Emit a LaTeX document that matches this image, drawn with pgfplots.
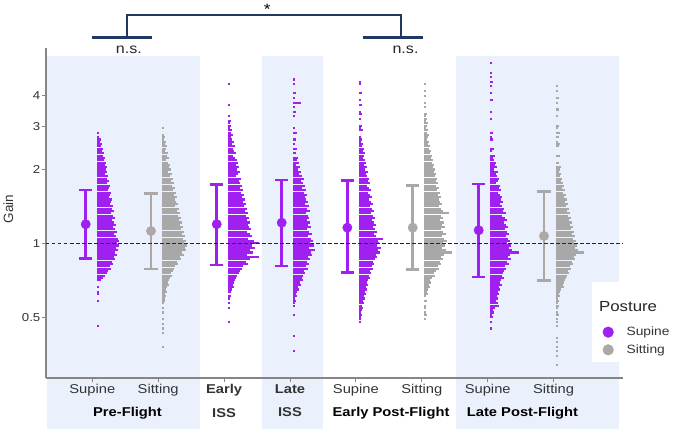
\documentclass[border=0pt]{standalone}
\usepackage{fontspec}
\setmainfont{Liberation Sans}[FakeStretch=1.15]
\newfontfamily\plainsans{Liberation Sans}
\usepackage{pgfplots}
\usepackage{pgfplotstable}
\pgfplotsset{compat=1.18}
\definecolor{purp}{HTML}{A020F0}
\definecolor{grybar}{HTML}{A8A8A8}
\definecolor{grypt}{HTML}{ABA8A5}
\definecolor{shade}{HTML}{EAF1FD}
\definecolor{navy}{HTML}{1F3864}
\definecolor{axgray}{HTML}{8A8580}
\definecolor{tickc}{HTML}{333333}

% histogram tables: g = gain (bin), e = bar length (x units)
\pgfplotstableread{
g e
2.828 0.030
2.709 0.030
2.650 0.061
2.594 0.046
2.538 0.076
2.484 0.061
2.430 0.091
2.378 0.076
2.328 0.106
2.278 0.091
2.229 0.121
2.181 0.106
2.134 0.137
2.089 0.121
2.044 0.152
2.000 0.137
1.957 0.152
1.915 0.121
1.874 0.167
1.834 0.152
1.795 0.182
1.756 0.152
1.719 0.197
1.682 0.182
1.646 0.167
1.610 0.212
1.576 0.197
1.542 0.182
1.509 0.228
1.477 0.212
1.445 0.197
1.414 0.243
1.384 0.228
1.354 0.258
1.325 0.212
1.297 0.243
1.269 0.273
1.242 0.228
1.215 0.258
1.189 0.288
1.164 0.243
1.139 0.273
1.114 0.303
1.091 0.258
1.067 0.288
1.044 0.319
1.022 0.334
1.000 0.303
0.979 0.334
0.958 0.288
0.937 0.319
0.917 0.273
0.897 0.303
0.878 0.258
0.859 0.273
0.841 0.228
0.823 0.243
0.805 0.197
0.788 0.212
0.771 0.167
0.755 0.152
0.738 0.121
0.723 0.091
0.707 0.061
0.662 0.030
0.634 0.030
0.621 0.030
0.582 0.030
0.458 0.030
}\tA
\pgfplotstableread{
g e
2.954 0.030
2.768 0.030
2.709 0.046
2.650 0.030
2.594 0.061
2.538 0.046
2.484 0.076
2.430 0.061
2.378 0.046
2.328 0.091
2.278 0.076
2.229 0.106
2.181 0.061
2.134 0.091
2.089 0.121
2.044 0.106
2.000 0.137
1.957 0.091
1.915 0.152
1.874 0.121
1.834 0.167
1.795 0.137
1.756 0.182
1.719 0.152
1.682 0.197
1.646 0.167
1.610 0.212
1.576 0.182
1.542 0.228
1.509 0.197
1.477 0.212
1.445 0.243
1.414 0.197
1.384 0.258
1.354 0.228
1.325 0.273
1.297 0.243
1.269 0.288
1.242 0.258
1.215 0.303
1.189 0.273
1.164 0.319
1.139 0.288
1.114 0.334
1.091 0.303
1.067 0.349
1.044 0.319
1.022 0.364
1.000 0.334
0.979 0.379
0.958 0.349
0.937 0.364
0.917 0.303
0.897 0.334
0.878 0.273
0.859 0.288
0.841 0.228
0.823 0.243
0.805 0.197
0.788 0.182
0.771 0.167
0.755 0.137
0.738 0.152
0.723 0.121
0.707 0.106
0.692 0.091
0.677 0.106
0.662 0.076
0.648 0.061
0.634 0.076
0.621 0.046
0.607 0.061
0.595 0.046
0.582 0.046
0.569 0.030
0.545 0.030
0.522 0.030
0.489 0.030
0.468 0.030
0.449 0.030
0.430 0.030
0.378 0.030
}\tB
\pgfplotstableread{
g e
4.457 0.030
3.668 0.030
3.292 0.030
3.152 0.046
3.084 0.030
3.018 0.046
2.954 0.030
2.890 0.061
2.828 0.046
2.768 0.076
2.709 0.046
2.650 0.061
2.594 0.091
2.538 0.061
2.484 0.106
2.430 0.076
2.378 0.091
2.328 0.121
2.278 0.076
2.229 0.106
2.181 0.137
2.134 0.152
2.089 0.121
2.044 0.167
2.000 0.137
1.957 0.182
1.915 0.152
1.874 0.121
1.834 0.197
1.795 0.167
1.756 0.182
1.719 0.212
1.682 0.182
1.646 0.228
1.610 0.197
1.576 0.243
1.542 0.212
1.509 0.258
1.477 0.228
1.445 0.273
1.414 0.243
1.384 0.288
1.354 0.258
1.325 0.303
1.297 0.273
1.269 0.319
1.242 0.288
1.215 0.334
1.189 0.303
1.164 0.319
1.139 0.349
1.114 0.288
1.091 0.334
1.067 0.364
1.044 0.303
1.022 0.395
1.000 0.470
0.979 0.364
0.958 0.410
0.937 0.334
0.917 0.379
0.897 0.288
0.878 0.470
0.859 0.334
0.841 0.273
0.823 0.303
0.805 0.228
0.788 0.212
0.771 0.182
0.755 0.167
0.738 0.137
0.723 0.121
0.707 0.106
0.692 0.091
0.677 0.076
0.662 0.091
0.648 0.061
0.634 0.046
0.607 0.046
0.595 0.030
0.569 0.030
0.545 0.030
0.479 0.030
}\tC
\pgfplotstableread{
g e
4.655 0.030
4.457 0.030
4.088 0.046
3.914 0.030
3.748 0.121
3.589 0.030
3.437 0.046
3.292 0.030
2.954 0.030
2.828 0.061
2.650 0.046
2.538 0.030
2.430 0.061
2.328 0.046
2.229 0.076
2.181 0.061
2.134 0.091
2.089 0.046
2.044 0.106
2.000 0.076
1.957 0.121
1.915 0.091
1.874 0.137
1.834 0.167
1.795 0.121
1.756 0.152
1.719 0.182
1.682 0.137
1.646 0.197
1.610 0.167
1.576 0.212
1.542 0.182
1.509 0.197
1.477 0.228
1.445 0.182
1.414 0.243
1.384 0.212
1.354 0.258
1.325 0.197
1.297 0.228
1.269 0.243
1.242 0.212
1.215 0.258
1.189 0.228
1.164 0.273
1.139 0.212
1.114 0.243
1.091 0.288
1.067 0.228
1.044 0.273
1.022 0.303
1.000 0.258
0.979 0.319
0.958 0.243
0.937 0.334
0.917 0.273
0.897 0.288
0.878 0.228
0.859 0.258
0.841 0.212
0.823 0.243
0.805 0.197
0.788 0.228
0.771 0.167
0.755 0.182
0.738 0.152
0.723 0.137
0.707 0.152
0.692 0.106
0.677 0.121
0.662 0.076
0.648 0.091
0.634 0.061
0.621 0.046
0.607 0.061
0.595 0.030
0.582 0.046
0.569 0.030
0.557 0.030
0.511 0.030
0.420 0.030
0.362 0.030
}\tD
\pgfplotstableread{
g e
4.555 0.030
4.457 0.030
4.088 0.046
3.830 0.030
3.668 0.046
3.437 0.030
3.364 0.046
3.221 0.030
3.018 0.046
2.954 0.030
2.890 0.061
2.709 0.030
2.650 0.046
2.594 0.030
2.538 0.061
2.484 0.046
2.430 0.076
2.378 0.061
2.328 0.091
2.278 0.076
2.229 0.061
2.181 0.091
2.134 0.106
2.089 0.076
2.044 0.121
2.000 0.091
1.957 0.137
1.915 0.106
1.874 0.121
1.834 0.152
1.795 0.137
1.756 0.167
1.719 0.121
1.682 0.152
1.646 0.182
1.610 0.137
1.576 0.167
1.542 0.197
1.509 0.152
1.477 0.182
1.445 0.212
1.414 0.167
1.384 0.197
1.354 0.228
1.325 0.182
1.297 0.212
1.269 0.243
1.242 0.197
1.215 0.228
1.189 0.258
1.164 0.212
1.139 0.243
1.114 0.273
1.091 0.228
1.067 0.258
1.044 0.364
1.022 0.288
1.000 0.303
0.979 0.273
0.958 0.334
0.937 0.288
0.917 0.319
0.897 0.258
0.878 0.273
0.859 0.243
0.841 0.212
0.823 0.228
0.805 0.197
0.788 0.212
0.771 0.167
0.755 0.182
0.738 0.152
0.723 0.167
0.707 0.137
0.692 0.121
0.677 0.137
0.662 0.106
0.648 0.121
0.634 0.091
0.621 0.106
0.607 0.076
0.595 0.091
0.582 0.061
0.569 0.076
0.557 0.046
0.545 0.061
0.534 0.046
0.522 0.030
0.511 0.046
0.500 0.030
0.489 0.030
0.479 0.030
}\tE
\pgfplotstableread{
g e
4.457 0.030
4.177 0.030
4.000 0.030
3.748 0.030
3.589 0.030
3.364 0.046
3.292 0.030
3.221 0.046
3.152 0.030
3.084 0.061
3.018 0.046
2.954 0.030
2.890 0.061
2.828 0.046
2.768 0.076
2.709 0.061
2.650 0.046
2.594 0.076
2.538 0.061
2.484 0.091
2.430 0.076
2.378 0.106
2.328 0.091
2.278 0.121
2.229 0.106
2.181 0.137
2.134 0.121
2.089 0.152
2.044 0.137
2.000 0.167
1.957 0.152
1.915 0.182
1.874 0.167
1.834 0.197
1.795 0.182
1.756 0.212
1.719 0.182
1.682 0.228
1.646 0.197
1.610 0.243
1.576 0.212
1.542 0.258
1.509 0.228
1.477 0.243
1.445 0.273
1.414 0.228
1.384 0.258
1.354 0.288
1.325 0.379
1.297 0.258
1.269 0.288
1.242 0.243
1.215 0.303
1.189 0.273
1.164 0.319
1.139 0.258
1.114 0.288
1.091 0.334
1.067 0.273
1.044 0.303
1.022 0.349
1.000 0.288
0.979 0.319
0.958 0.273
0.937 0.334
0.917 0.425
0.897 0.303
0.878 0.258
0.859 0.288
0.841 0.243
0.823 0.258
0.805 0.212
0.788 0.228
0.771 0.182
0.755 0.152
0.738 0.167
0.723 0.121
0.707 0.091
0.692 0.106
0.677 0.076
0.662 0.091
0.648 0.061
0.634 0.046
0.621 0.061
0.607 0.030
0.582 0.046
0.557 0.030
0.545 0.030
0.522 0.030
0.511 0.046
0.489 0.030
}\tF
\pgfplotstableread{
g e
5.417 0.030
4.967 0.030
4.757 0.030
4.555 0.046
4.362 0.030
4.088 0.030
3.830 0.046
3.437 0.030
3.221 0.030
2.828 0.046
2.709 0.030
2.650 0.046
2.430 0.061
2.378 0.030
2.278 0.076
2.229 0.046
2.181 0.061
2.134 0.091
2.089 0.076
2.044 0.106
2.000 0.061
1.957 0.121
1.915 0.091
1.874 0.106
1.834 0.137
1.795 0.121
1.756 0.091
1.719 0.152
1.682 0.137
1.646 0.167
1.610 0.121
1.576 0.152
1.542 0.182
1.509 0.167
1.477 0.197
1.445 0.152
1.414 0.182
1.384 0.212
1.354 0.197
1.325 0.243
1.297 0.182
1.269 0.228
1.242 0.258
1.215 0.212
1.189 0.243
1.164 0.273
1.139 0.228
1.114 0.258
1.091 0.288
1.067 0.243
1.044 0.273
1.022 0.303
1.000 0.258
0.979 0.319
0.958 0.288
0.937 0.334
0.917 0.440
0.897 0.303
0.878 0.273
0.859 0.319
0.841 0.258
0.823 0.288
0.805 0.228
0.788 0.243
0.771 0.212
0.755 0.197
0.738 0.182
0.723 0.212
0.707 0.167
0.692 0.152
0.677 0.182
0.662 0.137
0.648 0.152
0.634 0.121
0.621 0.137
0.607 0.106
0.595 0.121
0.582 0.091
0.569 0.121
0.557 0.137
0.545 0.076
0.534 0.046
0.522 0.061
0.511 0.030
0.500 0.046
0.479 0.030
0.449 0.030
}\tG
\pgfplotstableread{
g e
4.362 0.030
4.177 0.030
3.914 0.046
3.748 0.030
3.513 0.046
3.292 0.030
3.018 0.046
2.954 0.030
2.828 0.061
2.709 0.046
2.594 0.030
2.538 0.061
2.484 0.046
2.278 0.061
2.134 0.046
2.044 0.076
2.000 0.061
1.957 0.046
1.915 0.076
1.874 0.061
1.834 0.091
1.795 0.076
1.756 0.106
1.719 0.121
1.682 0.091
1.646 0.137
1.610 0.106
1.576 0.152
1.542 0.121
1.509 0.167
1.477 0.137
1.445 0.182
1.414 0.152
1.384 0.197
1.354 0.167
1.325 0.212
1.297 0.182
1.269 0.228
1.242 0.197
1.215 0.243
1.189 0.212
1.164 0.258
1.139 0.228
1.114 0.273
1.091 0.243
1.067 0.288
1.044 0.258
1.022 0.303
1.000 0.273
0.979 0.319
0.958 0.288
0.937 0.334
0.917 0.425
0.897 0.303
0.878 0.273
0.859 0.288
0.841 0.243
0.823 0.258
0.805 0.212
0.788 0.228
0.771 0.182
0.755 0.197
0.738 0.167
0.723 0.152
0.707 0.137
0.692 0.121
0.677 0.106
0.662 0.121
0.648 0.076
0.634 0.061
0.621 0.046
0.607 0.061
0.595 0.030
0.582 0.046
0.569 0.030
0.557 0.046
0.545 0.030
0.522 0.030
0.511 0.046
0.489 0.030
0.479 0.030
0.458 0.030
0.412 0.030
0.394 0.030
0.378 0.030
0.362 0.030
0.346 0.030
0.318 0.030
}\tH

\pgfplotsset{
  histo/.style={forget plot, draw=none, mark=none,
    error bars/.cd, x dir=plus, x explicit, error mark=none,
    error bar style={draw=#1, line width=2.1pt}},
  meanpt/.style={forget plot, only marks, mark=*, mark size=4.7pt, color=#1,
    error bars/.cd, y dir=both, y explicit, error mark=|,
    error bar style={line width=2.6pt, color=#1},
    error mark options={line width=2.6pt, mark size=6.6pt, color=#1}},
}

\begin{document}
\begin{tikzpicture}
\begin{axis}[
  set layers,
  scale only axis, width=577pt, height=330pt,
  xmin=0.2974, xmax=9.053,
  ymode=log, ymin=0.2821, ymax=6.26,
  axis x line*=bottom, axis y line*=left,
  axis line style={draw=axgray, line width=1.3pt},
  clip=false,
  xtick={1,2,3,4,5,6,7,8},
  xticklabels={Supine,Sitting,{\textbf{Early}\\\textbf{ISS}},{\textbf{Late}\\\textbf{ISS}},Supine,Sitting,Supine,Sitting},
  ytick={0.5,1,2,3,4}, yticklabels={0.5,1,2,3,4},
  yminorticks=false, xminorticks=false,
  tick align=outside, major tick length=4pt,
  tick style={draw=axgray, line width=1pt},
  xticklabel style={font=\fontsize{12.8}{23.5}\selectfont, text=tickc, align=center, anchor=north, inner sep=0pt, yshift=-2.2pt},
  yticklabel style={font=\fontsize{11.5}{13}\selectfont, text=tickc, anchor=east, inner sep=0pt, xshift=-1.5pt},
  /pgf/number format/assume math mode=true,
  legend style={at={(axis description cs:0.9647,0.158)}, anchor=north west, draw=none, fill=none,
    inner sep=0pt, row sep=5.5pt, column sep=12pt, font=\fontsize{12}{14}\selectfont, text=tickc,
    nodes={inner sep=1pt}},
  legend cell align=left,
  legend image code/.code={\draw[#1] plot coordinates {(0pt,0pt)};},
]
% background bands
\addplot[forget plot, fill=shade, draw=none, on layer=axis background] coordinates {(0.305,0.1746) (2.640,0.1746) (2.640,5.81) (0.305,5.81)};
\addplot[forget plot, fill=shade, draw=none, on layer=axis background] coordinates {(3.575,0.1746) (4.496,0.1746) (4.496,5.81) (3.575,5.81)};
\addplot[forget plot, fill=shade, draw=none, on layer=axis background] coordinates {(6.519,0.1746) (8.992,0.1746) (8.992,5.81) (6.519,5.81)};
\addplot[forget plot, fill=white, draw=none, on layer=axis background] coordinates {(8.587,0.328) (9.877,0.328) (9.877,0.695) (8.587,0.695)};

% histograms
\addplot[histo=purp] table[x expr=1.076, y=g, x error=e] \tA;
\addplot[histo=grybar] table[x expr=2.062, y=g, x error=e] \tB;
\addplot[histo=purp] table[x expr=3.055, y=g, x error=e] \tC;
\addplot[histo=purp] table[x expr=4.050, y=g, x error=e] \tD;
\addplot[histo=purp] table[x expr=5.047, y=g, x error=e] \tE;
\addplot[histo=grybar] table[x expr=6.038, y=g, x error=e] \tF;
\addplot[histo=purp] table[x expr=7.035, y=g, x error=e] \tG;
\addplot[histo=grybar] table[x expr=8.032, y=g, x error=e] \tH;

% means with error bars
\addplot[meanpt=purp] table[x=x, y=y, y error plus=ep, y error minus=em] {
x y ep em
0.900 1.196 0.454 0.331
2.888 1.196 0.544 0.380
3.874 1.213 0.599 0.405
4.870 1.158 0.642 0.399
6.863 1.130 0.615 0.401
};
\addplot[meanpt=grypt] table[x=x, y=y, y error plus=ep, y error minus=em] {
x y ep em
1.891 1.122 0.477 0.336
5.862 1.158 0.560 0.375
7.854 1.071 0.552 0.367
};

% reference line
\addplot[forget plot, color=black!85, line width=1pt, dash pattern=on 3.5pt off 2.5pt] coordinates {(0.2974,1) (9.053,1)};

\addlegendimage{only marks, mark=*, mark size=5.35pt, color=purp}
\addlegendentry{Supine}
\addlegendimage{only marks, mark=*, mark size=5.35pt, color=grypt}
\addlegendentry{Sitting}
\end{axis}

% y axis title
\node[rotate=90, font=\plainsans\fontsize{13.5}{15}\selectfont, text=tickc, inner sep=0pt] at (-37.7pt,168.8pt) {Gain};

% group labels
\node[anchor=base, font=\bfseries\fontsize{12.8}{14}\selectfont, text=black, inner sep=0pt] at (81.5pt,-38.3pt) {Pre-Flight};
\node[anchor=base, font=\bfseries\fontsize{12.8}{14}\selectfont, text=black, inner sep=0pt] at (345pt,-38.3pt) {Early Post-Flight};
\node[anchor=base, font=\bfseries\fontsize{12.8}{14}\selectfont, text=black, inner sep=0pt] at (476.5pt,-38.3pt) {Late Post-Flight};

% significance brackets
\draw[navy, line width=2.5pt] (45.7pt,340.7pt)--(105.7pt,340.7pt);
\draw[navy, line width=2.5pt] (81pt,340.7pt)--(81pt,363pt)--(355pt,363pt)--(355pt,340.7pt);
\draw[navy, line width=2.5pt] (316.7pt,340.7pt)--(377.3pt,340.7pt);
\node[anchor=base, font=\fontsize{15}{16}\selectfont, inner sep=0pt] at (221.3pt,363.5pt) {*};
\node[anchor=base, font=\fontsize{14}{15}\selectfont, text=black!85, inner sep=0pt] at (82.8pt,324.7pt) {n.s.};
\node[anchor=base, font=\fontsize{14}{15}\selectfont, text=black!85, inner sep=0pt] at (359.5pt,324.7pt) {n.s.};

% legend title
\node[anchor=base west, font=\fontsize{14.6}{16}\selectfont, text=black!85, inner sep=0pt] at (553pt,66.3pt) {Posture};

\pgfresetboundingbox
\useasboundingbox (-46pt,-52pt) rectangle (629pt,378pt);
\end{tikzpicture}
\end{document}
